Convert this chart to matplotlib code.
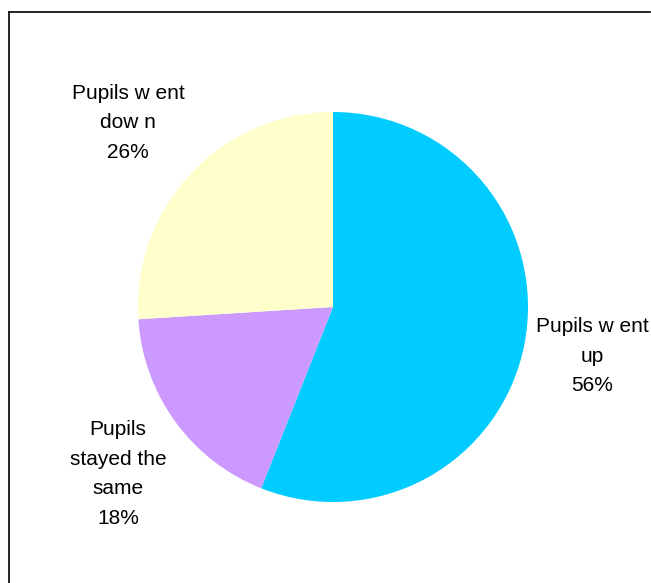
import matplotlib.pyplot as plt
from matplotlib.lines import Line2D

# Pie data (clockwise from 12 o'clock)
labels = ['Pupils w ent\nup\n56%', 'Pupils\nstayed the\nsame\n18%', 'Pupils w ent\ndow n\n26%']
values = [56, 18, 26]
colors = ['#00CCFF', '#CC99FF', '#FFFFCC']
# label centres in pixel coords (x, y from top)
label_pos = [(592, 356), (118, 474), (128, 123)]

W, H = 651, 583
fig = plt.figure(figsize=(W / 100, H / 100), dpi=100)
ax = fig.add_axes([0, 0, 1, 1])

ax.pie(values, colors=colors, startangle=90, counterclock=False,
       center=(333, H - 307), radius=195, frame=True,
       wedgeprops=dict(linewidth=0))
ax.set_xlim(0, W)
ax.set_ylim(0, H)
ax.set_axis_off()

for text, (x, y) in zip(labels, label_pos):
    ax.text(x, H - y, text, ha='center', va='center', fontsize=15,
            family='Liberation Sans', linespacing=1.7, color='black')

# chart area border (left and top visible)
ax.add_line(Line2D([9, 9], [0, H - 12], color='black', lw=1.2))
ax.add_line(Line2D([9, W - 1], [H - 12, H - 12], color='black', lw=1.2))

fig.savefig('out.png', dpi=100)
